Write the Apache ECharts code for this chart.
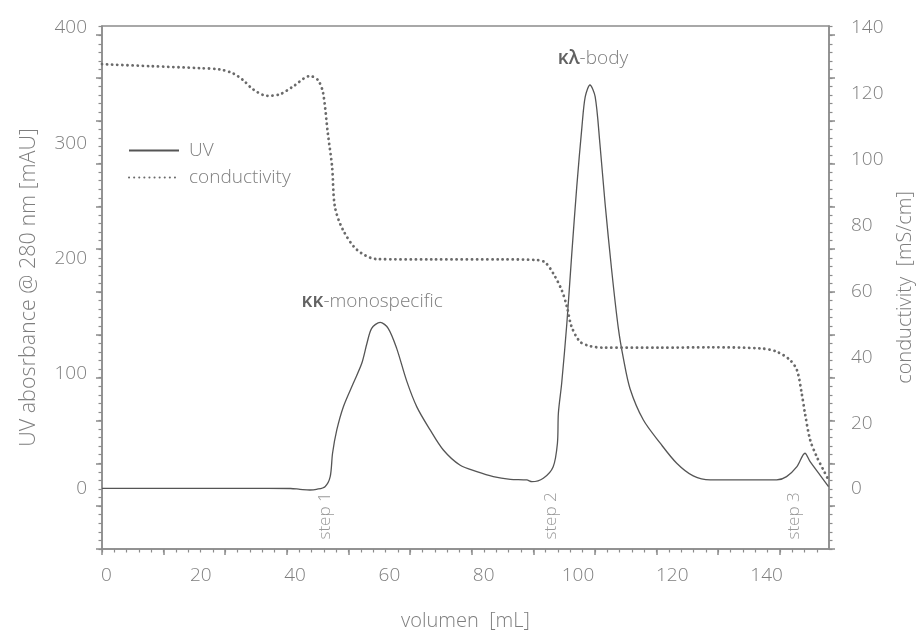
<!DOCTYPE html>
<html><head><meta charset="utf-8">
<script src="https://cdn.jsdelivr.net/npm/echarts@6/dist/echarts.min.js"></script>
<style>html,body{margin:0;padding:0;background:#fff}#c{width:921px;height:630px}</style>
</head><body><div id="c"></div>
<script>
// ---- data ----
const uvVolume = [0, 10, 20, 30, 40, 42.0, 44.1, 45.5, 47.3, 48.4, 48.9, 49.8, 51.2, 53.3, 55.1, 56.2, 57.2, 59.0, 60.7, 62.5, 64.6, 66.8, 69.6, 72.4, 75.9, 79.5, 83.0, 86.6, 90.1, 91.2, 93.6, 95.7, 96.6, 96.8, 97.5, 98.6, 99.6, 100.7, 101.8, 102.5, 103.5, 104.6, 105.6, 106.7, 108.1, 109.5, 110.6, 112.0, 114.8, 118.4, 121.9, 125.4, 129.0, 136.0, 143.1, 145.2, 147.4, 149.1, 150.2, 152.3, 154.1];
const uvValue  = [0.5, 0.5, 0.5, 0.5, 0.4, -0.3, -0.9, -0.3, 2, 10.7, 31, 51.2, 71.4, 91.7, 109, 126.4, 139.4, 144.6, 139.4, 122, 94, 71, 51.2, 33.8, 20.8, 15.0, 10.7, 8.4, 7.8, 6.3, 9.3, 19.3, 39.7, 65.7, 91.7, 143.8, 201.6, 262.3, 314.4, 340.4, 350.5, 340.4, 300, 247.9, 190, 140, 113, 87, 60, 39.7, 22.3, 11.3, 7.8, 7.8, 7.8, 10.7, 19.3, 31, 23.7, 12.1, 2];
const condVolume = [0, 10.2, 20.8, 25.0, 27.8, 29.9, 32.0, 35.0, 37.8, 40.5, 44.1, 45.8, 46.9, 47.9, 48.8, 49.4, 51.1, 54.1, 58.3, 70, 85, 92.3, 94.0, 95.7, 97.5, 98.6, 99.6, 101.4, 103.5, 106.2, 118.4, 129.0, 139.6, 143.1, 145.9, 147.4, 148.4, 149.1, 150.2, 151.6, 153.0, 154.1];
const condValue  = [129.0, 128.4, 127.8, 127.4, 126.2, 124.2, 121.4, 119.4, 119.9, 122.2, 125.4, 124.2, 120.2, 108, 97.9, 85.7, 78.7, 72.6, 69.8, 69.7, 69.7, 69.5, 68.8, 65.5, 60.4, 55.4, 49.3, 44.7, 43.4, 42.9, 42.9, 43.0, 42.7, 41.7, 39.2, 36.1, 29.1, 23.0, 14.9, 9.8, 5.8, 2.7];

const xTickLabels = [0, 20, 40, 60, 80, 100, 120, 140];
const uvTickLabels = [0, 100, 200, 300, 400];
const condTickLabels = [0, 20, 40, 60, 80, 100, 120, 140];

const peakVolume = [59.0, 103.5];
const peakValue = [144.6, 350.5];
const peakBold = ['κκ', 'κλ'];
const peakRest = ['-monospecific', '-body'];

const stepNames = ['step 1', 'step 2', 'step 3'];
const stepVolume = [47.3, 95.2, 146.8];
const stepLevel = [-23.4, -23.4, -23.4];

// ---- axis ranges & tick positions ----
const X_MIN = 0, X_MAX = 154.2;
const UV_MIN = -52.1, UV_MAX = 401.7;
const RATIO = 140 / 400;
const C_MIN = UV_MIN * RATIO, C_MAX = UV_MAX * RATIO;

const xMinor = [], xMajor = [];
for (let k = 0; k <= 59; k++) { const v = +(k * 2.614).toFixed(3); xMinor.push(v); if (k % 5 === 0) xMajor.push(v); }
const cMinor = [], cMajor = [];
for (let k = -7; k <= 54; k++) { const v = +(k * 2.6).toFixed(3); cMinor.push(v); if (((k - 3) % 5 + 5) % 5 === 0) cMajor.push(v); }
const uMinor = cMinor.map(v => +(v / RATIO).toFixed(3));
const uMajor = cMajor.map(v => +(v / RATIO).toFixed(3));

const FONT = '"Open Sans", Roboto, sans-serif';
const GREY = '#7e7e7e';
const AX = '#8c8c8c';

const uvData = uvVolume.map((x, i) => [x, uvValue[i]]);
const condData = condVolume.map((x, i) => [x, condValue[i]]);

const chart = echarts.init(document.getElementById('c'));
const lineAx = { show: true, onZero: false, lineStyle: { color: AX, width: 1.5 } };
const noLine = { show: false, onZero: false };
const txt = { fontFamily: FONT, fontWeight: 300, fontSize: 19, color: GREY };

chart.setOption({
  animation: false,
  grid: { left: 102, right: 92, top: 26, bottom: 81, show: true, borderColor: AX, borderWidth: 1.5,
          containLabel: false, outerBoundsMode: 'none' },
  legend: {
    data: ['UV', 'conductivity'], orient: 'vertical', left: 123, top: 136,
    itemWidth: 50, itemHeight: 12, itemGap: 8,
    itemStyle: { color: 'rgba(0,0,0,0)', borderWidth: 0, opacity: 0 },
    textStyle: Object.assign({ padding: [0, 0, 0, 5] }, txt)
  },
  xAxis: [
    { type: 'value', min: X_MIN, max: X_MAX, position: 'bottom',
      name: 'volumen  [mL]', nameLocation: 'middle', nameGap: 62, nameTextStyle: Object.assign({}, txt, { fontSize: 20 }),
      axisLine: lineAx, splitLine: { show: false },
      axisTick: { show: true, customValues: xMajor, length: 6, lineStyle: { color: AX, width: 1.5 } },
      axisLabel: Object.assign({ customValues: xTickLabels, margin: 17, padding: [0, 0, 0, 9] }, txt) },
    { type: 'value', min: X_MIN, max: X_MAX, position: 'bottom',
      axisLine: noLine, splitLine: { show: false }, axisLabel: { show: false },
      axisTick: { show: true, customValues: xMinor, length: 3.5, lineStyle: { color: AX, width: 1.2 } } }
  ],
  yAxis: [
    { type: 'value', min: UV_MIN, max: UV_MAX, position: 'left',
      name: 'UV abosrbance @ 280 nm [mAU]', nameLocation: 'middle', nameGap: 62, nameRotate: 90,
      nameTextStyle: Object.assign({}, txt, { fontSize: 21.5 }),
      axisLine: lineAx, splitLine: { show: false },
      axisTick: { show: true, customValues: uMajor, length: 6, lineStyle: { color: AX, width: 1.5 } },
      axisLabel: Object.assign({ customValues: uvTickLabels, margin: 15 }, txt) },
    { type: 'value', min: C_MIN, max: C_MAX, position: 'right',
      name: 'conductivity  [mS/cm]', nameLocation: 'middle', nameGap: 66, nameRotate: 90,
      nameTextStyle: Object.assign({}, txt, { fontSize: 20 }),
      axisLine: lineAx, splitLine: { show: false },
      axisTick: { show: true, customValues: cMajor, length: 6, lineStyle: { color: AX, width: 1.5 } },
      axisLabel: Object.assign({ customValues: condTickLabels, margin: 22 }, txt) },
    { type: 'value', min: UV_MIN, max: UV_MAX, position: 'left',
      axisLine: noLine, splitLine: { show: false }, axisLabel: { show: false },
      axisTick: { show: true, customValues: uMinor, length: 3.5, lineStyle: { color: AX, width: 1.2 } } },
    { type: 'value', min: C_MIN, max: C_MAX, position: 'right',
      axisLine: noLine, splitLine: { show: false }, axisLabel: { show: false },
      axisTick: { show: true, customValues: cMinor, length: 3.5, lineStyle: { color: AX, width: 1.2 } } }
  ],
  series: [
    { name: 'UV', type: 'line', xAxisIndex: 0, yAxisIndex: 0, data: uvData,
      symbol: 'none', showSymbol: false, smooth: 0.3,
      lineStyle: { color: '#555', width: 1.3 }, itemStyle: { color: '#555' },
      markPoint: {
        symbol: 'circle', symbolSize: 0, silent: true,
        data: peakVolume.map((x, i) => ({
          coord: [x, peakValue[i]], value: i,
          label: { show: true, position: 'top', distance: i === 0 ? 11 : 17, offset: [i === 0 ? -8 : 3, 0],
            formatter: '{b|' + peakBold[i] + '}{n|' + peakRest[i] + '}',
            rich: { b: { fontFamily: FONT, fontSize: 19, fontWeight: 600, color: '#626262' },
                    n: { fontFamily: FONT, fontSize: 19, fontWeight: 300, color: GREY } } }
        }))
      } },
    { name: 'conductivity', type: 'line', xAxisIndex: 0, yAxisIndex: 1, data: condData,
      symbol: 'none', showSymbol: false, smooth: 0.3,
      lineStyle: { color: '#6a6a6a', width: 2.8, type: [0.1, 5], cap: 'round' }, itemStyle: { color: '#6a6a6a' } },
    { name: 'steps', type: 'scatter', xAxisIndex: 0, yAxisIndex: 0, silent: true,
      data: stepVolume.map((x, i) => ({ value: [x, stepLevel[i]], name: stepNames[i] })),
      symbolSize: 1, itemStyle: { color: 'rgba(0,0,0,0)' },
      label: Object.assign({ show: true, position: 'inside', rotate: 90, formatter: p => p.name }, txt, { fontSize: 17 }) }
  ]
});
</script></body></html>
